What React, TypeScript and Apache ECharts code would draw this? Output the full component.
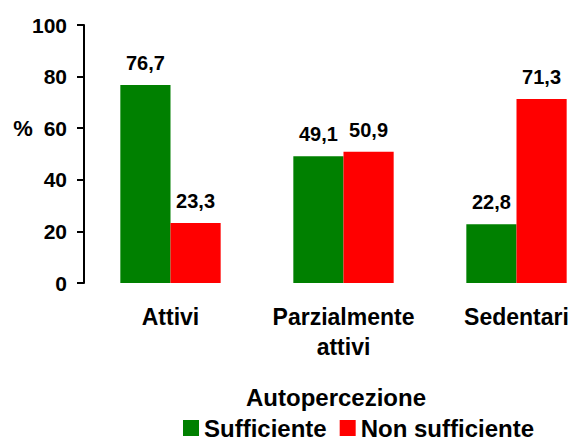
import React, { useEffect, useRef } from "react";
import * as echarts from "echarts";

const categories = ["Attivi", "Parzialmente\nattivi", "Sedentari"];
const sufficiente = [76.7, 49.1, 22.8];
const nonSufficiente = [23.3, 50.9, 71.3];
const seriesNames = ["Sufficiente", "Non sufficiente"];
const yTicks = { min: 0, max: 100, interval: 20 };

const FONT = "'Liberation Sans', Arial, sans-serif";

export default function App() {
  const ref = useRef<HTMLDivElement>(null);
  useEffect(() => {
    const chart = echarts.init(ref.current!, null, { renderer: "svg" });
    const label = {
      show: true,
      position: "top" as const,
      distance: 12,
      fontFamily: FONT,
      fontWeight: "bold" as const,
      fontSize: 20,
      color: "#000",
      formatter: (p: any) => String(p.value).replace(".", ","),
    };
    chart.setOption({
      animation: false,
      textStyle: { fontFamily: FONT },
      grid: {
        left: 84,
        top: 25,
        width: 519,
        height: 258,
        containLabel: false,
        outerBoundsMode: "none",
      },
      xAxis: {
        type: "category",
        data: categories,
        axisLine: { show: false },
        axisTick: { show: false },
        axisLabel: {
          fontFamily: FONT,
          fontWeight: "bold",
          fontSize: 23,
          color: "#000",
          margin: 19,
          lineHeight: 30,
          interval: 0,
        },
      },
      yAxis: {
        type: "value",
        min: yTicks.min,
        max: yTicks.max,
        interval: yTicks.interval,
        splitLine: { show: false },
        axisLine: { show: true, lineStyle: { color: "#000", width: 2 } },
        axisTick: { show: true, length: 7, lineStyle: { color: "#000", width: 2 } },
        axisLabel: {
          fontFamily: FONT,
          fontWeight: "bold",
          fontSize: 21,
          color: "#000",
          margin: 17,
        },
      },
      legend: {
        top: 416,
        left: 183,
        padding: 0,
        itemWidth: 16,
        itemHeight: 16,
        itemGap: 13,
        icon: "rect",
        textStyle: { fontFamily: FONT, fontWeight: "bold", fontSize: 24, color: "#000" },
        data: seriesNames,
      },
      graphic: [
        {
          type: "text",
          x: 336,
          y: 397,
          style: {
            text: "Autopercezione",
            font: `bold 24px ${FONT}`,
            fill: "#000",
            align: "center",
            verticalAlign: "middle",
          },
        },
        {
          type: "text",
          x: 23,
          y: 128,
          style: {
            text: "%",
            font: `bold 22px ${FONT}`,
            fill: "#000",
            align: "center",
            verticalAlign: "middle",
          },
        },
      ],
      series: [
        {
          name: seriesNames[0],
          type: "bar",
          data: sufficiente,
          barGap: "0%",
          barCategoryGap: "42%",
          itemStyle: { color: "#008000" },
          label,
        },
        {
          name: seriesNames[1],
          type: "bar",
          data: nonSufficiente,
          itemStyle: { color: "#FF0000" },
          label,
        },
      ],
    });
    return () => chart.dispose();
  }, []);
  return (
    <div
      ref={ref}
      style={{ width: 575, height: 440, position: "absolute", left: 0, top: 0 }}
    />
  );
}
